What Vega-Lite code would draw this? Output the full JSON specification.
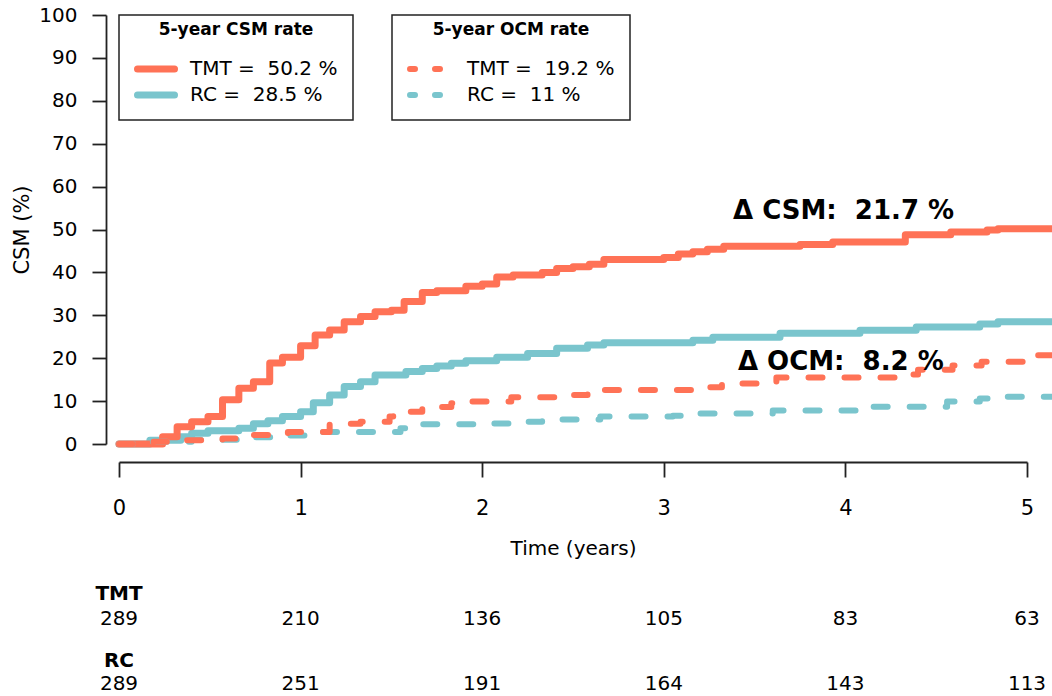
{
  "$schema": "https://vega.github.io/schema/vega-lite/v6.json",
  "width": 908,
  "height": 429,
  "autosize": "none",
  "padding": {"left": 119, "top": 15, "right": 25, "bottom": 252},
  "background": "white",
  "config": {
    "view": {"stroke": null},
    "font": "DejaVu Sans",
    "text": {"font": "DejaVu Sans", "color": "black"},
    "axisX": {"grid": false, "offset": 18, "tickSize": 15, "tickWidth": 1.8, "tickColor": "#222", "domainColor": "#222", "domainWidth": 1.8,
      "labelFont": "DejaVu Sans", "labelFontSize": 21, "labelColor": "black", "labelPadding": 20, "labelFlush": false, "labelOverlap": false,
      "titleFont": "DejaVu Sans", "titleFontSize": 20, "titleFontWeight": "normal", "titleColor": "black", "titlePadding": 20},
    "axisY": {"grid": false, "offset": 13, "tickSize": 14, "tickWidth": 1.8, "tickColor": "#222", "domainColor": "#222", "domainWidth": 1.8,
      "labelFont": "DejaVu Sans", "labelFontSize": 20, "labelColor": "black", "labelPadding": 15, "labelFlush": false, "labelOverlap": false,
      "titleFont": "DejaVu Sans", "titleFontSize": 21, "titleFontWeight": "normal", "titleColor": "black", "titlePadding": 6}
  },
  "datasets": {
    "curves": [
      {"arm":"RC","outcome":"CSM","t":0,"v":0},
      {"arm":"RC","outcome":"CSM","t":0.17,"v":0.9},
      {"arm":"RC","outcome":"CSM","t":0.34,"v":1.7},
      {"arm":"RC","outcome":"CSM","t":0.40,"v":2.5},
      {"arm":"RC","outcome":"CSM","t":0.49,"v":3.1},
      {"arm":"RC","outcome":"CSM","t":0.66,"v":3.7},
      {"arm":"RC","outcome":"CSM","t":0.74,"v":4.7},
      {"arm":"RC","outcome":"CSM","t":0.82,"v":5.4},
      {"arm":"RC","outcome":"CSM","t":0.90,"v":6.4},
      {"arm":"RC","outcome":"CSM","t":1.00,"v":7.5},
      {"arm":"RC","outcome":"CSM","t":1.07,"v":9.6},
      {"arm":"RC","outcome":"CSM","t":1.16,"v":11.4},
      {"arm":"RC","outcome":"CSM","t":1.24,"v":13.4},
      {"arm":"RC","outcome":"CSM","t":1.33,"v":14.5},
      {"arm":"RC","outcome":"CSM","t":1.41,"v":16.1},
      {"arm":"RC","outcome":"CSM","t":1.58,"v":16.9},
      {"arm":"RC","outcome":"CSM","t":1.67,"v":17.6},
      {"arm":"RC","outcome":"CSM","t":1.75,"v":18.2},
      {"arm":"RC","outcome":"CSM","t":1.83,"v":18.8},
      {"arm":"RC","outcome":"CSM","t":1.91,"v":19.4},
      {"arm":"RC","outcome":"CSM","t":2.08,"v":20.2},
      {"arm":"RC","outcome":"CSM","t":2.25,"v":21.1},
      {"arm":"RC","outcome":"CSM","t":2.41,"v":22.3},
      {"arm":"RC","outcome":"CSM","t":2.58,"v":23.1},
      {"arm":"RC","outcome":"CSM","t":2.67,"v":23.6},
      {"arm":"RC","outcome":"CSM","t":3.16,"v":24.2},
      {"arm":"RC","outcome":"CSM","t":3.27,"v":24.9},
      {"arm":"RC","outcome":"CSM","t":3.64,"v":25.8},
      {"arm":"RC","outcome":"CSM","t":4.08,"v":26.5},
      {"arm":"RC","outcome":"CSM","t":4.39,"v":27.3},
      {"arm":"RC","outcome":"CSM","t":4.74,"v":28.0},
      {"arm":"RC","outcome":"CSM","t":4.84,"v":28.5},
      {"arm":"RC","outcome":"CSM","t":5.14,"v":28.5},
      {"arm":"TMT","outcome":"CSM","t":0,"v":0},
      {"arm":"TMT","outcome":"CSM","t":0.24,"v":1.7},
      {"arm":"TMT","outcome":"CSM","t":0.32,"v":4.0},
      {"arm":"TMT","outcome":"CSM","t":0.40,"v":5.2},
      {"arm":"TMT","outcome":"CSM","t":0.49,"v":6.4},
      {"arm":"TMT","outcome":"CSM","t":0.57,"v":10.3},
      {"arm":"TMT","outcome":"CSM","t":0.66,"v":13.0},
      {"arm":"TMT","outcome":"CSM","t":0.74,"v":14.5},
      {"arm":"TMT","outcome":"CSM","t":0.83,"v":18.9},
      {"arm":"TMT","outcome":"CSM","t":0.90,"v":20.2},
      {"arm":"TMT","outcome":"CSM","t":1.00,"v":22.9},
      {"arm":"TMT","outcome":"CSM","t":1.08,"v":25.4},
      {"arm":"TMT","outcome":"CSM","t":1.16,"v":26.6},
      {"arm":"TMT","outcome":"CSM","t":1.24,"v":28.5},
      {"arm":"TMT","outcome":"CSM","t":1.33,"v":29.7},
      {"arm":"TMT","outcome":"CSM","t":1.41,"v":30.8},
      {"arm":"TMT","outcome":"CSM","t":1.50,"v":31.2},
      {"arm":"TMT","outcome":"CSM","t":1.57,"v":33.2},
      {"arm":"TMT","outcome":"CSM","t":1.67,"v":35.3},
      {"arm":"TMT","outcome":"CSM","t":1.75,"v":35.7},
      {"arm":"TMT","outcome":"CSM","t":1.91,"v":36.8},
      {"arm":"TMT","outcome":"CSM","t":2.00,"v":37.3},
      {"arm":"TMT","outcome":"CSM","t":2.08,"v":38.9},
      {"arm":"TMT","outcome":"CSM","t":2.17,"v":39.4},
      {"arm":"TMT","outcome":"CSM","t":2.33,"v":40.0},
      {"arm":"TMT","outcome":"CSM","t":2.41,"v":40.9},
      {"arm":"TMT","outcome":"CSM","t":2.50,"v":41.3},
      {"arm":"TMT","outcome":"CSM","t":2.59,"v":41.9},
      {"arm":"TMT","outcome":"CSM","t":2.67,"v":43.0},
      {"arm":"TMT","outcome":"CSM","t":3.00,"v":43.5},
      {"arm":"TMT","outcome":"CSM","t":3.08,"v":44.3},
      {"arm":"TMT","outcome":"CSM","t":3.16,"v":44.8},
      {"arm":"TMT","outcome":"CSM","t":3.24,"v":45.4},
      {"arm":"TMT","outcome":"CSM","t":3.33,"v":46.1},
      {"arm":"TMT","outcome":"CSM","t":3.75,"v":46.5},
      {"arm":"TMT","outcome":"CSM","t":3.93,"v":47.1},
      {"arm":"TMT","outcome":"CSM","t":4.33,"v":48.8},
      {"arm":"TMT","outcome":"CSM","t":4.58,"v":49.4},
      {"arm":"TMT","outcome":"CSM","t":4.78,"v":49.9},
      {"arm":"TMT","outcome":"CSM","t":4.84,"v":50.2},
      {"arm":"TMT","outcome":"CSM","t":5.14,"v":50.2},
      {"arm":"RC","outcome":"OCM","t":0,"v":0},
      {"arm":"RC","outcome":"OCM","t":0.17,"v":0.5},
      {"arm":"RC","outcome":"OCM","t":0.40,"v":1.0},
      {"arm":"RC","outcome":"OCM","t":0.70,"v":1.6},
      {"arm":"RC","outcome":"OCM","t":0.90,"v":2.0},
      {"arm":"RC","outcome":"OCM","t":1.05,"v":2.8},
      {"arm":"RC","outcome":"OCM","t":1.55,"v":3.7},
      {"arm":"RC","outcome":"OCM","t":1.59,"v":4.6},
      {"arm":"RC","outcome":"OCM","t":1.97,"v":4.8},
      {"arm":"RC","outcome":"OCM","t":2.15,"v":5.2},
      {"arm":"RC","outcome":"OCM","t":2.33,"v":5.7},
      {"arm":"RC","outcome":"OCM","t":2.65,"v":6.4},
      {"arm":"RC","outcome":"OCM","t":3.05,"v":6.6},
      {"arm":"RC","outcome":"OCM","t":3.10,"v":6.8},
      {"arm":"RC","outcome":"OCM","t":3.20,"v":7.1},
      {"arm":"RC","outcome":"OCM","t":3.60,"v":7.8},
      {"arm":"RC","outcome":"OCM","t":4.08,"v":8.7},
      {"arm":"RC","outcome":"OCM","t":4.56,"v":9.9},
      {"arm":"RC","outcome":"OCM","t":4.74,"v":10.6},
      {"arm":"RC","outcome":"OCM","t":4.82,"v":11.0},
      {"arm":"RC","outcome":"OCM","t":5.14,"v":11.0},
      {"arm":"TMT","outcome":"OCM","t":0,"v":0},
      {"arm":"TMT","outcome":"OCM","t":0.19,"v":0.5},
      {"arm":"TMT","outcome":"OCM","t":0.37,"v":0.9},
      {"arm":"TMT","outcome":"OCM","t":0.57,"v":1.3},
      {"arm":"TMT","outcome":"OCM","t":0.74,"v":2.1},
      {"arm":"TMT","outcome":"OCM","t":0.93,"v":2.8},
      {"arm":"TMT","outcome":"OCM","t":1.16,"v":4.7},
      {"arm":"TMT","outcome":"OCM","t":1.33,"v":5.2},
      {"arm":"TMT","outcome":"OCM","t":1.49,"v":6.4},
      {"arm":"TMT","outcome":"OCM","t":1.51,"v":7.5},
      {"arm":"TMT","outcome":"OCM","t":1.67,"v":8.6},
      {"arm":"TMT","outcome":"OCM","t":1.83,"v":9.5},
      {"arm":"TMT","outcome":"OCM","t":1.90,"v":9.9},
      {"arm":"TMT","outcome":"OCM","t":2.16,"v":10.9},
      {"arm":"TMT","outcome":"OCM","t":2.41,"v":11.4},
      {"arm":"TMT","outcome":"OCM","t":2.58,"v":12.6},
      {"arm":"TMT","outcome":"OCM","t":3.16,"v":13.2},
      {"arm":"TMT","outcome":"OCM","t":3.32,"v":14.1},
      {"arm":"TMT","outcome":"OCM","t":3.62,"v":15.5},
      {"arm":"TMT","outcome":"OCM","t":4.33,"v":16.2},
      {"arm":"TMT","outcome":"OCM","t":4.40,"v":17.3},
      {"arm":"TMT","outcome":"OCM","t":4.59,"v":18.3},
      {"arm":"TMT","outcome":"OCM","t":4.75,"v":19.2},
      {"arm":"TMT","outcome":"OCM","t":5.06,"v":20.7},
      {"arm":"TMT","outcome":"OCM","t":5.14,"v":20.7}
    ],
    "risk": [
      {"arm":"TMT","t":0,"n":289},
      {"arm":"TMT","t":1,"n":210},
      {"arm":"TMT","t":2,"n":136},
      {"arm":"TMT","t":3,"n":105},
      {"arm":"TMT","t":4,"n":83},
      {"arm":"TMT","t":5,"n":63},
      {"arm":"RC","t":0,"n":289},
      {"arm":"RC","t":1,"n":251},
      {"arm":"RC","t":2,"n":191},
      {"arm":"RC","t":3,"n":164},
      {"arm":"RC","t":4,"n":143},
      {"arm":"RC","t":5,"n":113}
    ]
  },
  "layer": [
    {
      "data": {"name": "curves"},
      "transform": [{"filter": "datum.outcome == 'CSM'"}],
      "mark": {"type": "line", "interpolate": "step-after", "strokeWidth": 7, "strokeCap": "round", "strokeJoin": "round"},
      "encoding": {
        "x": {"field": "t", "type": "quantitative", "title": "Time (years)", "scale": {"domain": [0, 5], "nice": false, "zero": false},
          "axis": {"values": [0,1,2,3,4,5], "format": "d"}},
        "y": {"field": "v", "type": "quantitative", "title": "CSM (%)", "scale": {"domain": [0, 100], "nice": false},
          "axis": {"values": [0,10,20,30,40,50,60,70,80,90,100]}},
        "color": {"field": "arm", "type": "nominal", "scale": {"domain": ["TMT", "RC"], "range": ["#FF7256", "#7AC5CD"]},
          "legend": {"title": "5-year CSM rate", "orient": "none", "legendX": 0, "legendY": 0, "direction": "vertical",
            "titleFont": "DejaVu Sans", "titleFontSize": 17, "titleFontWeight": "bold", "titleColor": "black",
            "titleAnchor": "middle", "titleAlign": "center", "titlePadding": 12,
            "labelFont": "DejaVu Sans", "labelFontSize": 20, "labelColor": "black", "labelOffset": 12, "labelLimit": 400,
            "labelExpr": "datum.label == 'TMT' ? 'TMT =\u00a0 50.2 %' : 'RC =\u00a0 28.5 %'",
            "symbolType": "stroke", "symbolSize": 1369, "symbolStrokeWidth": 7, "clipHeight": 20, "rowPadding": 6, "padding": 15,
            "strokeColor": "#222", "fillColor": "white",
            "encode": {"title": {"update": {"dy": {"value": -8}}}, "symbols": {"update": {"strokeCap": {"value": "round"}}}, "legend": {"update": {"strokeWidth": {"value": 1.5}}}}}},
        "order": {"field": "t", "type": "quantitative"}
      }
    },
    {
      "data": {"name": "curves"},
      "transform": [{"filter": "datum.outcome == 'OCM'"}],
      "mark": {"type": "line", "interpolate": "step-after", "strokeWidth": 6, "strokeCap": "round", "strokeJoin": "round", "strokeDash": [14, 22]},
      "encoding": {
        "x": {"field": "t", "type": "quantitative", "title": "Time (years)"},
        "y": {"field": "v", "type": "quantitative", "title": "CSM (%)"},
        "color": {"field": "arm", "type": "nominal", "scale": {"domain": ["TMT", "RC"], "range": ["#FF7256", "#7AC5CD"]},
          "legend": {"title": "5-year OCM rate", "orient": "none", "legendX": 273, "legendY": 0, "direction": "vertical",
            "titleFont": "DejaVu Sans", "titleFontSize": 17, "titleFontWeight": "bold", "titleColor": "black",
            "titleAnchor": "middle", "titleAlign": "center", "titlePadding": 12,
            "labelFont": "DejaVu Sans", "labelFontSize": 20, "labelColor": "black", "labelOffset": 14, "labelLimit": 400,
            "labelExpr": "datum.label == 'TMT' ? 'TMT =\u00a0 19.2 %' : 'RC =\u00a0 11 %'",
            "symbolType": "stroke", "symbolSize": 1600, "symbolStrokeWidth": 6, "symbolDash": [5, 20], "clipHeight": 20, "rowPadding": 6, "padding": 15,
            "strokeColor": "#222", "fillColor": "white",
            "encode": {"title": {"update": {"dy": {"value": -8}}}, "symbols": {"update": {"strokeCap": {"value": "round"}}}, "legend": {"update": {"strokeWidth": {"value": 1.5}}}}}},
        "order": {"field": "t", "type": "quantitative"}
      }
    },
    {
      "data": {"values": [{"label": "Δ CSM:\u00a0 21.7 %"}]},
      "mark": {"type": "text", "align": "left", "baseline": "alphabetic", "fontSize": 26, "fontWeight": "bold", "font": "DejaVu Sans", "color": "black"},
      "encoding": {
        "x": {"datum": 3.381, "type": "quantitative", "title": "Time (years)"},
        "y": {"datum": 52.45, "type": "quantitative", "title": "CSM (%)"},
        "text": {"field": "label"}
      }
    },
    {
      "data": {"values": [{"label": "Δ OCM:\u00a0 8.2 %"}]},
      "mark": {"type": "text", "align": "left", "baseline": "alphabetic", "fontSize": 26, "fontWeight": "bold", "font": "DejaVu Sans", "color": "black"},
      "encoding": {
        "x": {"datum": 3.408, "type": "quantitative", "title": "Time (years)"},
        "y": {"datum": 17.25, "type": "quantitative", "title": "CSM (%)"},
        "text": {"field": "label"}
      }
    },
    {
      "data": {"name": "risk"},
      "transform": [{"filter": "datum.arm == 'TMT'"}],
      "mark": {"type": "text", "align": "center", "baseline": "alphabetic", "fontSize": 20, "font": "DejaVu Sans", "color": "black"},
      "encoding": {
        "x": {"field": "t", "type": "quantitative", "title": "Time (years)"},
        "y": {"datum": -42.2, "type": "quantitative", "title": "CSM (%)"},
        "text": {"field": "n", "type": "quantitative"}
      }
    },
    {
      "data": {"name": "risk"},
      "transform": [{"filter": "datum.arm == 'RC'"}],
      "mark": {"type": "text", "align": "center", "baseline": "alphabetic", "fontSize": 20, "font": "DejaVu Sans", "color": "black"},
      "encoding": {
        "x": {"field": "t", "type": "quantitative", "title": "Time (years)"},
        "y": {"datum": -57.3, "type": "quantitative", "title": "CSM (%)"},
        "text": {"field": "n", "type": "quantitative"}
      }
    },
    {
      "data": {"values": [{"label": "TMT"}]},
      "mark": {"type": "text", "align": "center", "baseline": "alphabetic", "fontSize": 20, "fontWeight": "bold", "font": "DejaVu Sans", "color": "black"},
      "encoding": {
        "x": {"datum": 0, "type": "quantitative", "title": "Time (years)"},
        "y": {"datum": -36.4, "type": "quantitative", "title": "CSM (%)"},
        "text": {"field": "label"}
      }
    },
    {
      "data": {"values": [{"label": "RC"}]},
      "mark": {"type": "text", "align": "center", "baseline": "alphabetic", "fontSize": 20, "fontWeight": "bold", "font": "DejaVu Sans", "color": "black"},
      "encoding": {
        "x": {"datum": 0, "type": "quantitative", "title": "Time (years)"},
        "y": {"datum": -52.0, "type": "quantitative", "title": "CSM (%)"},
        "text": {"field": "label"}
      }
    }
  ],
  "resolve": {"scale": {"color": "independent"}, "legend": {"color": "independent"}}
}
